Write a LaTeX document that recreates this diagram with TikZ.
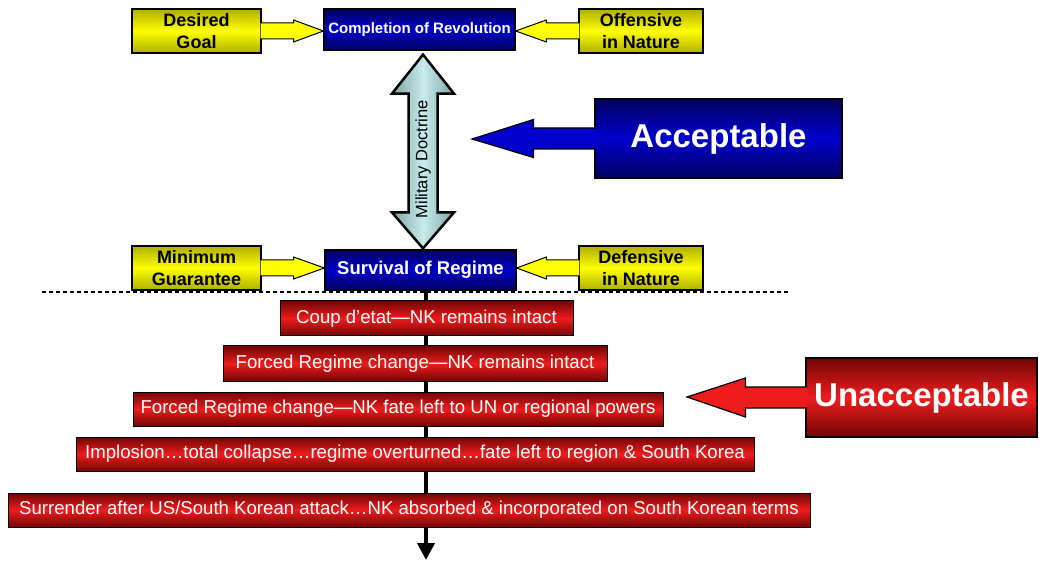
\documentclass[tikz,border=0pt]{standalone}
\usepackage{fontspec}
\setmainfont{Liberation Sans}
\usepackage{tikz}
\usetikzlibrary{positioning}
\usetikzlibrary{calc}
\usetikzlibrary{arrows.meta}

\definecolor{goalyellow}{RGB}{255,255,0}
\definecolor{goalolive}{RGB}{175,175,0}
\definecolor{navy}{RGB}{0,0,95}
\definecolor{royal}{RGB}{0,0,205}
\definecolor{maroon}{RGB}{115,5,5}
\definecolor{scarlet}{RGB}{238,28,28}
\definecolor{doctrinelight}{RGB}{200,235,235}
\definecolor{doctrineedge}{RGB}{125,165,165}

\begin{document}
\begin{tikzpicture}[
    x=1pt, y=-1pt,
    goalbox/.style={
        draw, line width=1.2pt, top color=goalolive, bottom color=goalolive,
        middle color=goalyellow, align=center, inner sep=0pt,
        minimum width=129pt, minimum height=44pt,
        font=\fontsize{18}{21.5}\selectfont\bfseries
    },
    corebox/.style={
        draw, line width=1.2pt, top color=navy, bottom color=navy,
        middle color=royal, text=white, inner sep=0pt, minimum width=191pt
    },
    outcome/.style={
        draw, line width=1pt, top color=maroon, bottom color=maroon,
        middle color=scarlet, text=white, inner sep=0pt, minimum height=35pt,
        font=\fontsize{18.6}{22}\selectfont
    },
    verdict/.style={
        draw, line width=1.2pt, text=white, inner sep=0pt, minimum height=79pt,
        font=\fontsize{33}{38}\selectfont\bfseries
    },
    yarrow/.style={draw, line width=1pt, fill=goalyellow},
    bigarrow/.style={draw, line width=1.2pt},
    doctrine/.style={draw, line width=2.5pt, left color=doctrineedge,
        right color=doctrineedge, middle color=doctrinelight},
    spine/.style={line width=4pt, -{Triangle[width=17pt,length=17pt]}},
]
\useasboundingbox (0,0) rectangle (1039,561);

% Divider
\draw[line width=1.2pt, dash pattern=on 4pt off 3pt] (42,292) -- (790,292);

% Goals
\node[goalbox] (goal) at (196.5,31) {Desired\\Goal};
\node[corebox, minimum height=41pt, font=\fontsize{15}{18}\selectfont\bfseries]
    (compl) at (419.5,29.5) {Completion of Revolution};
\node[goalbox, minimum width=124pt] (offens) at (641,31) {Offensive\\in Nature};

\node[goalbox] (guar) at (196.5,268) {Minimum\\Guarantee};
\node[corebox, minimum height=40pt, font=\fontsize{18.5}{22}\selectfont\bfseries]
    (survival) at (420.5,270) {Survival of Regime};
\node[goalbox, minimum width=124pt] (defens) at (641,268) {Defensive\\in Nature};

% Military doctrine
\coordinate (dtop) at ($(compl.south)+(3.5,4)$);
\coordinate (dbot) at ($(survival.north)+(2.5,-1)$);
\draw[doctrine, line join=miter] (dtop) -- ($(dtop)+(31,39)$) -- ($(dtop)+(14.5,39)$)
    -- ($(dbot)+(14.5,-36)$) -- ($(dbot)+(31,-36)$) -- (dbot)
    -- ($(dbot)+(-31,-36)$) -- ($(dbot)+(-14.5,-36)$)
    -- ($(dtop)+(-14.5,39)$) -- ($(dtop)+(-31,39)$) -- cycle;
\node[rotate=90, font=\fontsize{16.5}{20}\selectfont] (doctrinelabel)
    at ($(dtop)!0.54!(dbot)$) {Military Doctrine};

% Yellow arrows
\foreach \src/\sa/\dst/\da/\s in {goal/east/compl/west/1, offens/west/compl/east/-1,
    guar/east/survival/west/1, defens/west/survival/east/-1}
  \draw[yarrow] ($(\src.\sa)+(-\s*1,-8)$) -- ($(\src.\sa)+(\s*32,-8)$)
      -- ($(\src.\sa)+(\s*32,-11)$) -- (\src.\sa -| \dst.\da)
      -- ($(\src.\sa)+(\s*32,11)$) -- ($(\src.\sa)+(\s*32,8)$)
      -- ($(\src.\sa)+(-\s*1,8)$);

% Outcomes
\coordinate (down) at (426,560);
\draw[spine] (survival.south -| down) -- (down);

\node[outcome, minimum width=293pt] (coup) at (426.5,318.5)
    {Coup d’etat—NK remains intact};
\node[outcome, minimum width=384pt] (change) at (415,363.5)
    {Forced Regime change—NK remains intact};
\node[outcome, minimum width=530pt, minimum height=34pt] (powers) at (398,409)
    {Forced Regime change—NK fate left to UN or regional powers};
\node[outcome, minimum width=678pt, minimum height=34pt] (implosion) at (415,454)
    {Implosion…total collapse…regime overturned…fate left to region \& South Korea};
\node[outcome, minimum width=802pt, minimum height=34pt] (surrender) at (409,510)
    {Surrender after US/South Korean attack…NK absorbed \& incorporated on South Korean terms};

% Verdicts
\node[verdict, minimum width=247pt, top color=navy, bottom color=navy,
    middle color=royal] (accept) at (718.5,138.5) {Acceptable\hspace{14pt}};
\node[verdict, minimum width=231pt, top color=maroon, bottom color=maroon,
    middle color=scarlet] (unaccept) at (921.5,397.5) {Unacceptable};

\coordinate (acctip) at (472,139);
\coordinate (unacctip) at (687,397);
\draw[bigarrow, fill=royal] ($(accept.west)+(1.5,-10.5)$) -- ($(accept.west)+(-61,-10.5)$)
    -- ($(accept.west)+(-61,-19)$) -- (acctip) -- ($(accept.west)+(-61,19)$)
    -- ($(accept.west)+(-61,10.5)$) -- ($(accept.west)+(1.5,10.5)$);
\draw[bigarrow, fill=scarlet] ($(unaccept.west)+(1.5,-10.5)$) -- ($(unaccept.west)+(-60,-10.5)$)
    -- ($(unaccept.west)+(-60,-19.5)$) -- (unacctip) -- ($(unaccept.west)+(-60,19.5)$)
    -- ($(unaccept.west)+(-60,10.5)$) -- ($(unaccept.west)+(1.5,10.5)$);

\end{tikzpicture}
\end{document}
